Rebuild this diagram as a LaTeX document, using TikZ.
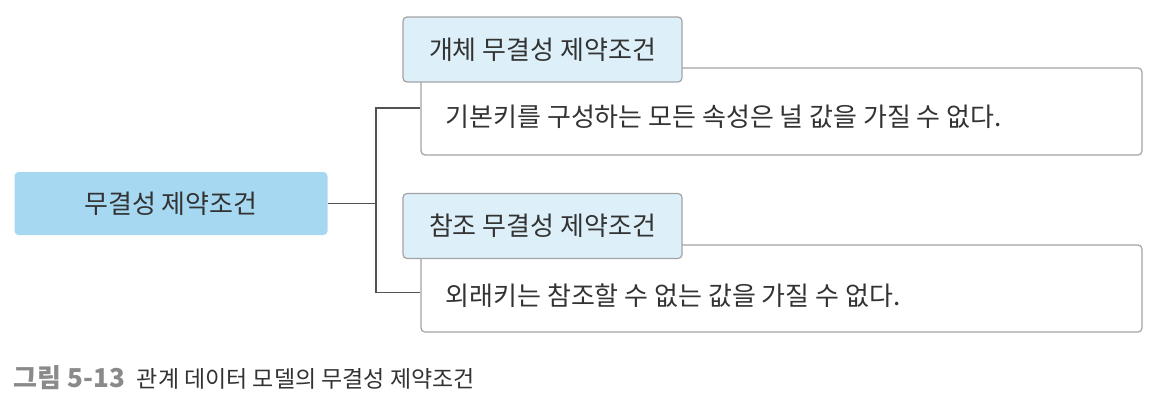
\documentclass[tikz,border=0pt]{standalone}
\usepackage{fontspec}
\setmainfont{Noto Sans CJK KR}
\definecolor{mainfill}{HTML}{A6D8F2}
\definecolor{headfill}{HTML}{DDEFF9}
\definecolor{boxline}{HTML}{A3A3A3}
\definecolor{inkgray}{HTML}{333333}
\definecolor{capgray}{HTML}{8A8A8A}
\begin{document}
\begin{tikzpicture}[x=1pt,y=-1pt,line width=1.2pt,
  mainbox/.style={rectangle,rounded corners=4pt,fill=mainfill,draw=none,
    minimum width=313pt,minimum height=63pt,inner sep=0pt,text=inkgray,
    font=\fontsize{26}{30}\selectfont},
  headbox/.style={rectangle,rounded corners=4pt,fill=headfill,draw=boxline,
    minimum width=279pt,minimum height=65pt,inner sep=0pt,text=inkgray,
    font=\fontsize{26}{30}\selectfont},
  bodybox/.style={rectangle,rounded corners=4pt,fill=white,draw=boxline,
    minimum width=721pt,minimum height=87pt,inner sep=0pt},
  bodytext/.style={anchor=west,inner sep=0pt,text=inkgray,
    font=\fontsize{26}{30}\selectfont},
  link/.style={draw=inkgray!85,line width=1.3pt}]
\useasboundingbox (0,0) rectangle (1159,402);
\node[mainbox] (constraint) at (171,203.5) {무결성 제약조건};
\node[bodybox] (ent body) at (781.5,111.5) {};
\node[bodybox] (ref body) at (781.5,288.5) {};
\node[headbox] (ent head) at (542.5,49.5) {개체 무결성 제약조건};
\node[headbox] (ref head) at (542.5,226) {참조 무결성 제약조건};
\node[bodytext] (ent text) at (445,117) {기본키를 구성하는 모든 속성은 널 값을 가질 수 없다.};
\node[bodytext] (ref text) at (445,296) {외래키는 참조할 수 없는 값을 가질 수 없다.};
\coordinate (fork) at (376,203.5);
\draw[link] (constraint.east) -- (fork);
\draw[link] ([yshift=3.5pt]ent body.west) -| (fork) |- ([yshift=-4pt]ref body.west);
\node[anchor=west,inner sep=0pt,font=\fontsize{23}{27}\selectfont] (caption) at (13,378)
  {\textcolor{capgray}{\fontsize{26}{30}\selectfont\bfseries 그림 5-13}\hspace{12pt}\textcolor{inkgray}{관계 데이터 모델의 무결성 제약조건}};
\end{tikzpicture}
\end{document}
